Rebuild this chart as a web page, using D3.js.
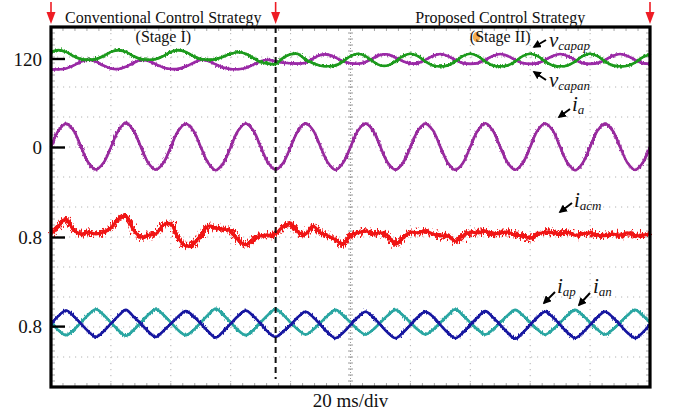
<!DOCTYPE html>
<html>
<head>
<meta charset="utf-8">
<script src="https://cdn.jsdelivr.net/npm/d3@7"></script>
<style>
  html, body { margin: 0; padding: 0; background: #fff; }
  svg { display: block; font-family: "Liberation Serif", "Times New Roman", serif; }
</style>
</head>
<body>
<svg id="chart" width="673" height="415"></svg>
<script>
// Oscilloscope capture: 10 x 20 ms, one sample every 2.5 ms (81 samples per trace)
const SAMPLE_MS = 2.5;
const SPAN_MS = 200;
const STAGE_SWITCH_MS = 75;

// Upper / lower arm capacitor voltages (V)
const vCapap = [
  121.1, 121.4, 121.1, 120.4, 119.9, 119.8, 119.9, 120.4, 121.1, 121.4,
  121.1, 120.4, 119.9, 119.8, 119.9, 120.4, 121.1, 121.4, 121.1, 120.4,
  119.9, 119.8, 119.9, 120.3, 120.8, 121.05, 120.8, 120.1, 119.4, 119.15,
  119.1, 120.1, 120.7, 120.75, 119.8, 119.2, 118.8, 118.7, 118.85, 119.5,
  120.4, 120.8, 120.4, 119.5, 118.85, 118.85, 119.5, 120.4, 120.8, 120.4,
  119.5, 118.85, 118.7, 118.85, 119.5, 120.4, 120.8, 120.4, 119.5, 118.85,
  118.7, 118.85, 119.5, 120.4, 120.8, 120.4, 119.5, 118.85, 118.7, 118.85,
  119.5, 120.4, 120.8, 120.4, 119.5, 118.85, 118.7, 118.8, 119.3, 120.2, 120.7
];
const vCapan = [
  118.15, 118.2, 118.33, 118.84, 119.48, 119.8, 119.48, 118.84, 118.33, 118.25,
  118.65, 119.25, 119.75, 119.6, 119.05, 118.5, 118.25, 118.28, 118.68, 119.24,
  119.77, 119.58, 119.03, 118.49, 118.23, 118.22, 118.42, 118.97, 119.54, 119.78,
  119.5, 119.3, 119.2, 119.15, 119.3, 120.0, 120.6, 120.65, 120.15, 119.55,
  119.2, 119.13, 119.43, 120.02, 120.63, 120.67, 120.16, 119.55, 119.18, 119.23,
  119.76, 120.42, 120.75, 120.42, 119.76, 119.23, 119.1, 119.23, 119.76, 120.42,
  120.75, 120.42, 119.76, 119.23, 119.1, 119.23, 119.76, 120.42, 120.75, 120.42,
  119.76, 119.23, 119.1, 119.23, 119.76, 120.42, 120.75, 120.42, 119.76, 119.23, 119.1
];
// AC-side phase current (A)
const iA = [
  0.00, 1.10, 1.56, 1.12, 0.02, -1.05, -1.50, -1.07,
  -0.02, 1.09, 1.62, 1.11, 0.01, -1.06, -1.51, -1.06,
  0.00, 1.08, 1.55, 1.10, 0.00, -1.07, -1.55, -1.08,
  -0.01, 1.10, 1.57, 1.11, 0.02, -1.05, -1.52, -1.07,
  0.00, 1.09, 1.58, 1.12, 0.01, -1.06, -1.53, -1.06,
  0.00, 1.10, 1.57, 1.10, 0.00, -1.07, -1.52, -1.07,
  -0.01, 1.09, 1.56, 1.11, 0.01, -1.06, -1.53, -1.08,
  0.00, 1.10, 1.58, 1.10, 0.00, -1.06, -1.52, -1.07,
  0.01, 1.11, 1.57, 1.11, 0.00, -1.07, -1.55, -1.08,
  0.00, 1.10, 1.56, 1.10, 0.01, -1.06, -1.53, -1.07,
  0.00
];
// Circulating current (A)
const iAcm = [
  0.85, 0.98, 1.10, 0.92, 0.85, 0.88, 0.85, 0.88, 0.95, 1.10,
  1.15, 0.92, 0.80, 0.83, 0.85, 1.00, 1.02, 0.78, 0.65, 0.68,
  0.83, 0.98, 0.95, 0.93, 0.90, 0.75, 0.67, 0.75, 0.82, 0.83,
  0.85, 0.98, 1.02, 0.88, 0.85, 0.98, 0.87, 0.82, 0.75, 0.68,
  0.83, 0.87, 0.90, 0.85, 0.87, 0.82, 0.68, 0.78, 0.88, 0.87,
  0.90, 0.85, 0.82, 0.82, 0.73, 0.82, 0.88, 0.87, 0.90, 0.85,
  0.87, 0.88, 0.83, 0.82, 0.78, 0.85, 0.88, 0.87, 0.85, 0.88,
  0.83, 0.85, 0.87, 0.83, 0.82, 0.85, 0.83, 0.87, 0.82, 0.83, 0.85
];
// Upper / lower arm currents (A)
const iAp = [
  0.83, 0.97, 1.06, 0.97, 0.84, 0.71, 0.62, 0.71,
  0.84, 0.97, 1.07, 0.96, 0.84, 0.71, 0.62, 0.72,
  0.84, 0.96, 1.05, 0.97, 0.84, 0.71, 0.61, 0.71,
  0.84, 0.97, 1.06, 0.97, 0.84, 0.70, 0.62, 0.71,
  0.82, 0.95, 1.04, 0.95, 0.82, 0.69, 0.60, 0.69,
  0.82, 0.95, 1.04, 0.95, 0.82, 0.69, 0.60, 0.69,
  0.82, 0.95, 1.04, 0.96, 0.82, 0.69, 0.60, 0.69,
  0.82, 0.95, 1.05, 0.95, 0.82, 0.69, 0.59, 0.69,
  0.82, 0.95, 1.04, 0.95, 0.82, 0.69, 0.60, 0.69,
  0.82, 0.95, 1.04, 0.95, 0.82, 0.69, 0.60, 0.69,
  0.83
];
const iAn = [
  0.86, 0.73, 0.65, 0.73, 0.86, 0.99, 1.08, 0.99,
  0.86, 0.73, 0.64, 0.73, 0.86, 0.99, 1.08, 0.99,
  0.86, 0.73, 0.65, 0.73, 0.86, 0.99, 1.09, 0.99,
  0.86, 0.73, 0.65, 0.73, 0.86, 0.99, 1.08, 0.99,
  0.86, 0.74, 0.66, 0.74, 0.86, 0.98, 1.07, 0.98,
  0.86, 0.74, 0.66, 0.74, 0.86, 0.98, 1.07, 0.98,
  0.86, 0.74, 0.66, 0.74, 0.86, 0.98, 1.08, 0.98,
  0.86, 0.74, 0.66, 0.74, 0.86, 0.98, 1.07, 0.98,
  0.86, 0.74, 0.66, 0.74, 0.86, 0.98, 1.07, 0.98,
  0.86, 0.74, 0.66, 0.74, 0.86, 0.98, 1.07, 0.98,
  0.86
];

// Channel reference markers shown on the left edge
const channelRefs = [120, 0, 0.8, 0.8];
const stageTitles = ["Conventional Control Strategy", "Proposed Control Strategy"];
const stageNames = ["(Stage I)", "(Stage II)"];
const timeBaseLabel = "20 ms/div";

// ---------- layout ----------
const W = 673, H = 415;
const L = 51, R = 650, T = 27, B = 387;
const DIV_X = 10, DIV_Y = 12;
const divH = (B - T) / DIV_Y;

const svg = d3.select("#chart");
const x = d3.scaleLinear().domain([0, SPAN_MS]).range([L, R]);

// Per-channel vertical scales: reference level placed at a grid position, units per division
function channelScale(ref, perDiv, refDiv) {
  const yRef = T + refDiv * divH;
  return d3.scaleLinear().domain([ref, ref + perDiv]).range([yRef, yRef - divH]);
}
const yCap  = channelScale(channelRefs[0], 5,   1.05);
const yIa   = channelScale(channelRefs[1], 2,   4);
const yAcm  = channelScale(channelRefs[2], 0.5, 7);
const yArm  = channelScale(channelRefs[3], 0.5, 9.97);

// ---------- defs: trace jitter ----------
const defs = svg.append("defs");
function jitter(id, scale, fx, fy, seed) {
  const f = defs.append("filter").attr("id", id)
    .attr("filterUnits", "userSpaceOnUse")
    .attr("x", 0).attr("y", 0).attr("width", W).attr("height", H);
  f.append("feTurbulence").attr("type", "fractalNoise")
    .attr("baseFrequency", fx + " " + fy).attr("numOctaves", 2)
    .attr("seed", seed).attr("result", "n");
  f.append("feDisplacementMap").attr("in", "SourceGraphic").attr("in2", "n")
    .attr("scale", scale).attr("xChannelSelector", "R").attr("yChannelSelector", "G");
}
jitter("jit", 5, 0.9, 0.3, 3);
jitter("jitBig", 12, 0.8, 0.2, 7);
jitter("jitBig2", 16, 0.6, 0.15, 11);

defs.append("marker").attr("id", "ah")
  .attr("viewBox", "0 0 10 10").attr("refX", 8).attr("refY", 5)
  .attr("markerWidth", 4.2).attr("markerHeight", 4.2).attr("orient", "auto")
  .append("path").attr("d", "M0,0 L10,5 L0,10 Z").attr("fill", "#000");

// ---------- graticule ----------
const grid = svg.append("g").attr("stroke", "#b4b4b4").attr("stroke-width", 1)
  .attr("stroke-dasharray", "1.2 4.8");
d3.range(1, DIV_X).forEach(i => {
  if (i === DIV_X / 2) return;
  grid.append("line").attr("x1", x(i * SPAN_MS / DIV_X)).attr("x2", x(i * SPAN_MS / DIV_X))
    .attr("y1", T).attr("y2", B);
});
d3.range(1, DIV_Y).forEach(j => {
  grid.append("line").attr("x1", L).attr("x2", R)
    .attr("y1", T + j * divH).attr("y2", T + j * divH);
});
// centre vertical line with minor ticks
const cx = x(SPAN_MS / 2);
const centre = svg.append("g").attr("stroke", "#9a9a9a").attr("stroke-width", 1);
centre.append("line").attr("x1", cx).attr("x2", cx).attr("y1", T).attr("y2", B)
  .attr("stroke-dasharray", "1 2");
d3.range(T + divH / 5, B, divH / 5).forEach(y =>
  centre.append("line").attr("x1", cx - 2.5).attr("x2", cx + 2.5).attr("y1", y).attr("y2", y));
// minor ticks along frame edges
const edge = svg.append("g").attr("stroke", "#a8a8a8").attr("stroke-width", 1);
d3.range(T + divH / 5, B, divH / 5).forEach(y => {
  edge.append("line").attr("x1", L).attr("x2", L + 4).attr("y1", y).attr("y2", y);
  edge.append("line").attr("x1", R - 4).attr("x2", R).attr("y1", y).attr("y2", y);
});
d3.range(0, SPAN_MS, SPAN_MS / DIV_X / 5).forEach(t => {
  edge.append("line").attr("x1", x(t)).attr("x2", x(t)).attr("y1", B - 4).attr("y2", B);
  edge.append("line").attr("x1", x(t)).attr("x2", x(t)).attr("y1", T).attr("y2", T + 4);
});

// ---------- traces ----------
const traces = [
  { data: vCapan, y: yCap, color: "#9a2aa6", big: false },
  { data: vCapap, y: yCap, color: "#1c9a1c", big: false },
  { data: iA,     y: yIa,  color: "#982a9e", big: false },
  { data: iAcm,   y: yAcm, color: "#f01414", big: true },
  { data: iAn,    y: yArm, color: "#2aa6a2", big: false },
  { data: iAp,    y: yArm, color: "#1818a0", big: false }
];
const plot = svg.append("g");
traces.forEach(tr => {
  const line = d3.line()
    .x((d, i) => x(i * SAMPLE_MS))
    .y(d => tr.y(d))
    .curve(d3.curveCatmullRom.alpha(0.5));
  const g = plot.append("g").attr("fill", "none").attr("stroke", tr.color);
  g.append("path").attr("d", line(tr.data)).attr("stroke-width", tr.big ? 3 : 2.6);
  if (tr.big) {
    g.append("path").attr("d", line(tr.data)).attr("stroke-width", 3.4)
      .attr("filter", "url(#jitBig)");
    g.append("path").attr("d", line(tr.data)).attr("stroke-width", 2.2)
      .attr("filter", "url(#jitBig2)");
  } else {
    g.append("path").attr("d", line(tr.data)).attr("stroke-width", 2.2)
      .attr("filter", "url(#jit)");
  }
});

// stage boundary
svg.append("line")
  .attr("x1", x(STAGE_SWITCH_MS)).attr("x2", x(STAGE_SWITCH_MS))
  .attr("y1", T).attr("y2", B - 8)
  .attr("stroke", "#111").attr("stroke-width", 2)
  .attr("stroke-dasharray", "6 4");

// ---------- frame ----------
svg.append("rect").attr("x", L).attr("y", T).attr("width", R - L).attr("height", B - T)
  .attr("fill", "none").attr("stroke", "#000").attr("stroke-width", 3.2);

// channel reference markers
const refAxes = [yCap, yIa, yAcm, yArm];
refAxes.forEach((sc, i) => {
  const ax = svg.append("g").attr("transform", `translate(${L},0)`)
    .call(d3.axisLeft(sc).tickValues([channelRefs[i]]).tickSize(-14).tickPadding(9)
      .tickFormat(d3.format("")));
  ax.select(".domain").remove();
  ax.selectAll(".tick line").attr("stroke", "#000").attr("stroke-width", 2.4);
  ax.selectAll(".tick text").attr("fill", "#111")
    .style("font-family", '"Liberation Serif", serif').style("font-size", "19px")
    .attr("dy", "0.36em");
});

// ---------- annotations ----------
// trigger markers at the top
[0, STAGE_SWITCH_MS, SPAN_MS].forEach(t => {
  const ax = x(t);
  svg.append("line").attr("x1", ax).attr("x2", ax).attr("y1", 2).attr("y2", 14)
    .attr("stroke", "#ee1c24").attr("stroke-width", 1.6);
  svg.append("path").attr("d", `M${ax - 4.5},12 L${ax + 4.5},12 L${ax},24 Z`)
    .attr("fill", "#ee1c24");
});

const txt = svg.append("g").attr("fill", "#111");
const stageCentres = [x(37.5), x(150)];
stageTitles.forEach((s, i) => {
  txt.append("text").attr("x", stageCentres[i]).attr("y", 23)
    .attr("text-anchor", "middle").style("font-size", "16px").text(s);
});
// highlight mark on the second stage label
txt.append("ellipse")
  .attr("cx", 476.5).attr("cy", 37).attr("rx", 3.6).attr("ry", 5)
  .attr("fill", "#f2a23a").attr("opacity", 0.9);
stageNames.forEach((s, i) => {
  txt.append("text").attr("x", stageCentres[i]).attr("y", 42)
    .attr("text-anchor", "middle").style("font-size", "16px").text(s);
});
txt.append("text").attr("x", x(SPAN_MS / 2)).attr("y", 407)
  .attr("text-anchor", "middle").style("font-size", "19px").text(timeBaseLabel);

// trace names with pointer arrows
const traceNames = [
  { main: "v", sub: "capap", x: 549, y: 47,  tail: [546, 40],  head: [534, 47] },
  { main: "v", sub: "capan", x: 549, y: 87,  tail: [546, 80],  head: [534, 72] },
  { main: "i", sub: "a",     x: 572, y: 111, tail: [570, 109], head: [559, 117] },
  { main: "i", sub: "acm",   x: 574, y: 207, tail: [572, 203], head: [560, 212] },
  { main: "i", sub: "ap",    x: 557, y: 293, tail: [555, 292], head: [544, 303] },
  { main: "i", sub: "an",    x: 593, y: 293, tail: [590, 293], head: [579, 305] }
];
traceNames.forEach(n => {
  const t = txt.append("text").attr("x", n.x).attr("y", n.y).style("font-style", "italic");
  t.append("tspan").style("font-size", "21px").text(n.main);
  t.append("tspan").style("font-size", "13px").attr("dy", 3).text(n.sub);
  svg.append("line").attr("x1", n.tail[0]).attr("y1", n.tail[1])
    .attr("x2", n.head[0]).attr("y2", n.head[1])
    .attr("stroke", "#000").attr("stroke-width", 2).attr("marker-end", "url(#ah)");
});
</script>
</body>
</html>
